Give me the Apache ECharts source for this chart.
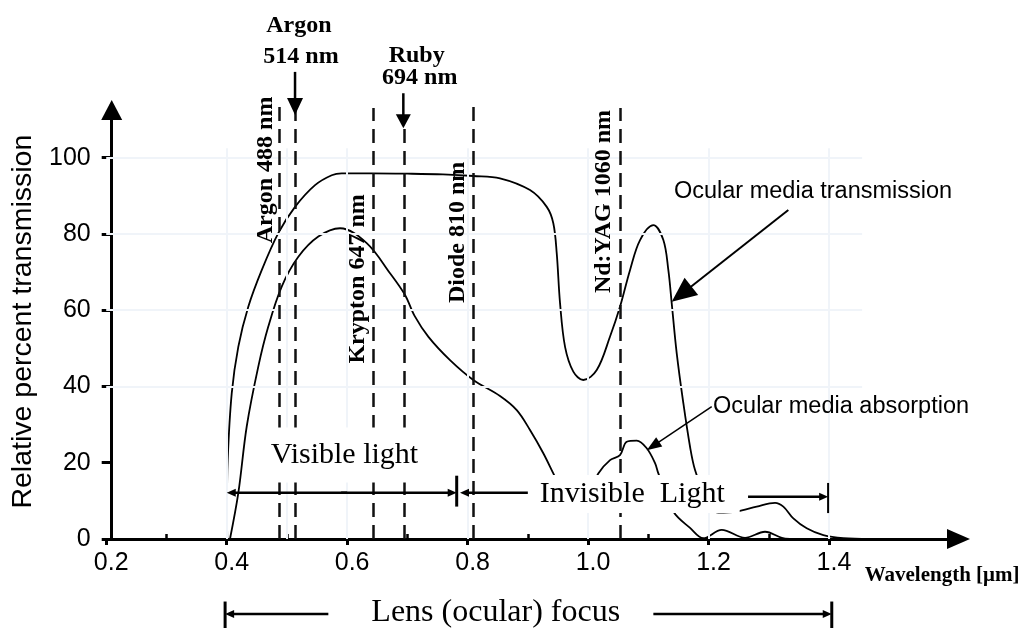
<!DOCTYPE html>
<html><head><meta charset="utf-8">
<script src="https://cdn.jsdelivr.net/npm/echarts@6/dist/echarts.min.js"></script>
<style>html,body{margin:0;padding:0;background:#fff}#c{width:1025px;height:628px}</style>
</head><body><div id="c"></div>
<script>
// ---------------- data ----------------
const xTickValues = [0.2, 0.4, 0.6, 0.8, 1.0, 1.2, 1.4];
const xMinorTickValues = [0.3, 0.5, 0.7, 0.9, 1.1, 1.3];
const yTickValues = [0, 20, 40, 60, 80, 100];
const gridXValues = [0.4, 0.5, 0.6, 0.8, 1.0, 1.2, 1.4];
const gridYValues = [40, 60, 80, 100];

// Ocular media transmission  [wavelength µm, %]
const transmission = [
  [0.401,0],[0.4005,7.6],[0.4017,20.7],[0.4084,38.2],[0.4193,50.4],[0.4359,60.9],
  [0.4582,70.5],[0.4857,80.2],[0.5135,87.1],[0.5467,92.8],[0.5744,95.4],[0.591,95.9],
  [0.64,95.9],[0.70,95.8],[0.759,95.6],[0.8095,95.2],[0.8538,94.6],[0.9036,91.5],
  [0.9314,87.1],[0.9423,82.8],[0.948,74.9],[0.9535,61.8],[0.9618,50.4],[0.9755,43.9],
  [0.9921,41.7],[1.0144,44.3],[1.0365,53.1],[1.053,60.9],[1.0696,70.5],[1.0863,78.4],
  [1.1084,82.3],[1.125,78.4],[1.1333,70.5],[1.1389,61.8],[1.1472,48.7],[1.1582,35.6],
  [1.1693,24.2],[1.1776,18.1],[1.194,11.5],[1.2163,6.9],[1.2468,7.2],[1.28,8.5],
  [1.3104,9.5],[1.3242,8.5],[1.3408,5.4],[1.363,2.8],[1.3906,1.0],[1.4238,0.2],[1.468,0]
];
// Ocular media absorption  [wavelength µm, %]
const absorption = [
  [0.4055,0],[0.4193,12.0],[0.4333,29.5],[0.4525,45.2],[0.4691,55.7],[0.4914,66.2],
  [0.519,74.0],[0.5522,79.3],[0.5882,81.5],[0.6325,77.6],[0.6712,69.7],[0.6961,64.0],
  [0.712,58.5],[0.735,53.0],[0.7708,46.9],[0.8095,41.7],[0.8538,37.5],[0.8816,33.8],
  [0.9036,28.6],[0.9257,22.5],[0.9423,17.2],[0.96,11.5],[0.98,9.0],[1.0,11.5],
  [1.017,17.2],[1.0365,20.7],[1.053,22.0],[1.0642,25.5],[1.0808,25.8],[1.0974,23.8],
  [1.1112,19.9],[1.1167,17.2],[1.1416,7.2],[1.1693,2.9],[1.1914,0.2],[1.2219,2.4],
  [1.2606,0.3],[1.2938,1.9],[1.3216,0.3],[1.335,0]
];
// Laser lines (µm) and the height where each dashed line starts
const laserNames = ['Argon 488 nm', 'Argon 514 nm', 'Krypton 647 nm', 'Ruby 694 nm', 'Diode 810 nm', 'Nd:YAG 1060 nm'];
const laserWavelengths = [0.488, 0.514, 0.644, 0.694, 0.81, 1.054];
const laserTops = [113.3, 112.5, 113.0, 107.7, 113.3, 113.0];

// ---------------- chart ----------------
const SANS = '"Liberation Sans", Arial, sans-serif';
const SERIF = '"Liberation Serif", "Times New Roman", serif';
const chart = echarts.init(document.getElementById('c'), null, {renderer: 'canvas'});

const gridLines = [];
gridYValues.forEach(v => gridLines.push([{coord: [0.2, v]}, {coord: [1.455, v]}]));
gridXValues.forEach(v => gridLines.push([{coord: [v, 0]}, {coord: [v, 102.5]}]));

const laserMarks = laserWavelengths.map((v, i) => [{coord: [v, 0]}, {coord: [v, laserTops[i]]}]);

const option = {
  animation: false,
  backgroundColor: '#fff',
  grid: {left: 106.2, right: 66.5, top: 104.3, bottom: 89, containLabel: false},
  xAxis: [{
    type: 'value', min: 0.2, max: 1.615,
    axisLine: {show: true, lineStyle: {color: '#000', width: 3}, symbol: ['none', 'triangle'], symbolSize: [20, 23]},
    axisTick: {show: true, customValues: xTickValues, length: 6, lineStyle: {color: '#000', width: 3}},
    axisLabel: {customValues: xTickValues, formatter: v => v.toFixed(1), color: '#000',
      fontFamily: SANS, fontSize: 25, margin: 12, padding: [0, 0, 0, 10]},
    splitLine: {show: false}
  }, {
    type: 'value', min: 0.2, max: 1.615, position: 'bottom',
    axisLine: {show: false},
    axisTick: {show: true, inside: true, customValues: xMinorTickValues, length: 5, lineStyle: {color: '#000', width: 2.5}},
    axisLabel: {show: false},
    splitLine: {show: false}
  }],
  yAxis: {
    type: 'value', min: 0, max: 114, offset: -5.5,
    axisLine: {show: true, lineStyle: {color: '#000', width: 3}, symbol: ['none', 'triangle'], symbolSize: [21, 20], symbolOffset: [0, -5.7]},
    axisTick: {show: true, customValues: yTickValues, length: 10, lineStyle: {color: '#000', width: 3}},
    axisLabel: {customValues: yTickValues, color: '#000', fontFamily: SANS, fontSize: 25, margin: 21},
    splitLine: {show: false},
    name: 'Relative percent transmission', nameLocation: 'middle', nameRotate: 90, nameGap: 74,
    nameTextStyle: {color: '#000', fontFamily: SANS, fontSize: 28.5}
  },
  series: [{
    type: 'line', data: [], silent: true, z: 1,
    markLine: {silent: true, symbol: ['none', 'none'], label: {show: false},
      lineStyle: {color: '#f0f4f9', width: 2, type: 'solid'}, data: gridLines, animation: false}
  }, {
    type: 'line', data: [], silent: true, z: 2,
    markLine: {silent: true, symbol: ['none', 'none'], label: {show: false},
      lineStyle: {color: '#111', width: 2.5, type: [14, 8]}, data: laserMarks, animation: false}
  }, {
    name: 'Ocular media transmission', type: 'line', data: transmission, showSymbol: false,
    smooth: 0.35, lineStyle: {color: '#000', width: 1.8}, z: 3, silent: true
  }, {
    name: 'Ocular media absorption', type: 'line', data: absorption, showSymbol: false,
    smooth: 0.35, lineStyle: {color: '#000', width: 1.8}, z: 3, silent: true
  }]
};
chart.setOption(option);

// ---------------- annotations (placed via the axes' scales) ----------------
const P = (x, y) => chart.convertToPixel({xAxisIndex: 0, yAxisIndex: 0}, [x, y]);
const els = [];
function text(str, at, font, extra) {
  const p = P(at[0], at[1]);
  const el = {type: 'text', z: 100, x: p[0], y: p[1], rotation: 0, silent: true,
    style: Object.assign({text: str, font: font, fill: '#000', align: 'center', verticalAlign: 'middle'}, (extra && extra.style) || {})};
  if (extra && extra.rotation) el.rotation = extra.rotation;
  els.push(el);
}
function seg(a, b, lw) {
  const p = P(a[0], a[1]), q = P(b[0], b[1]);
  els.push({type: 'line', z: 101, silent: true, shape: {x1: p[0], y1: p[1], x2: q[0], y2: q[1]}, style: {stroke: '#000', lineWidth: lw}});
}
function arrow(a, b, headL, headW, lw) {
  const p = P(a[0], a[1]), q = P(b[0], b[1]);
  const dx = q[0] - p[0], dy = q[1] - p[1], L = Math.hypot(dx, dy), ux = dx / L, uy = dy / L;
  const bx = q[0] - ux * headL, by = q[1] - uy * headL, nx = -uy, ny = ux;
  els.push({type: 'line', z: 101, silent: true, shape: {x1: p[0], y1: p[1], x2: bx + ux, y2: by + uy}, style: {stroke: '#000', lineWidth: lw}});
  els.push({type: 'polygon', z: 101, silent: true, shape: {points: [[q[0], q[1]], [bx + nx * headW / 2, by + ny * headW / 2], [bx - nx * headW / 2, by - ny * headW / 2]]}, style: {fill: '#000'}});
}

const BOLD_SERIF = 'bold 24px ' + SERIF;
text('Argon', [0.52, 134.6], BOLD_SERIF);
text('514 nm', [0.5234, 126.4], BOLD_SERIF);
text('Ruby', [0.7155, 126.7], BOLD_SERIF);
text('694 nm', [0.7205, 120.9], BOLD_SERIF);
arrow([0.5135, 122.5], [0.5135, 111.2], 17, 16, 2.5);
arrow([0.6933, 116.9], [0.6933, 107.7], 14, 15, 2.5);

const R = Math.PI / 2;
text(laserNames[0], [0.4653, 96.8], BOLD_SERIF, {rotation: R});
text(laserNames[2], [0.6181, 68.2], BOLD_SERIF, {rotation: R});
text(laserNames[4], [0.7833, 80.4], BOLD_SERIF, {rotation: R});
text(laserNames[5], [1.0265, 88.5], BOLD_SERIF, {rotation: R});

text('Visible light', [0.5981, 22.0], '30px ' + SERIF,
  {style: {backgroundColor: '#fff', padding: [10, 8, 15, 5]}});
text('Invisible  Light', [1.0808, 11.8], '30px ' + SERIF,
  {style: {backgroundColor: '#fff', padding: [6, 15, 2, 6]}});

// visible light double arrow
arrow([0.60, 12.1], [0.4001, 12.1], 9, 8, 2.5);
arrow([0.59, 12.1], [0.7819, 12.1], 9, 8, 2.5);
seg([0.7819, 16.6], [0.7819, 8.5], 3);
// invisible light arrow
arrow([0.90, 12.1], [0.7874, 12.1], 9, 8, 2.5);
arrow([1.2656, 11.1], [1.3985, 11.1], 9, 8, 2.5);
seg([1.3985, 14.7], [1.3985, 6.8], 2);

// lens focus
text('Lens (ocular) focus', [0.8467, -19.3], '32px ' + SERIF);
arrow([0.5688, -19.7], [0.3974, -19.7], 9, 8, 2.5);
seg([0.3974, -16.4], [0.3974, -23.5], 3);
arrow([1.1084, -19.7], [1.4046, -19.7], 9, 8, 2.5);
seg([1.4046, -16.4], [1.4046, -23.5], 3);

text('Wavelength [μm]', [1.5877, -9.7], 'bold 21px ' + SERIF);

text('Ocular media transmission', [1.3735, 91.0], '23.5px ' + SANS);
text('Ocular media absorption', [1.42, 34.7], '23.5px ' + SANS);
arrow([1.3325, 86.3], [1.1389, 62.2], 25, 22, 2);
arrow([1.2053, 34.7], [1.0974, 23.3], 15, 11, 1.5);

chart.setOption({graphic: {elements: els}});
</script>
</body></html>
